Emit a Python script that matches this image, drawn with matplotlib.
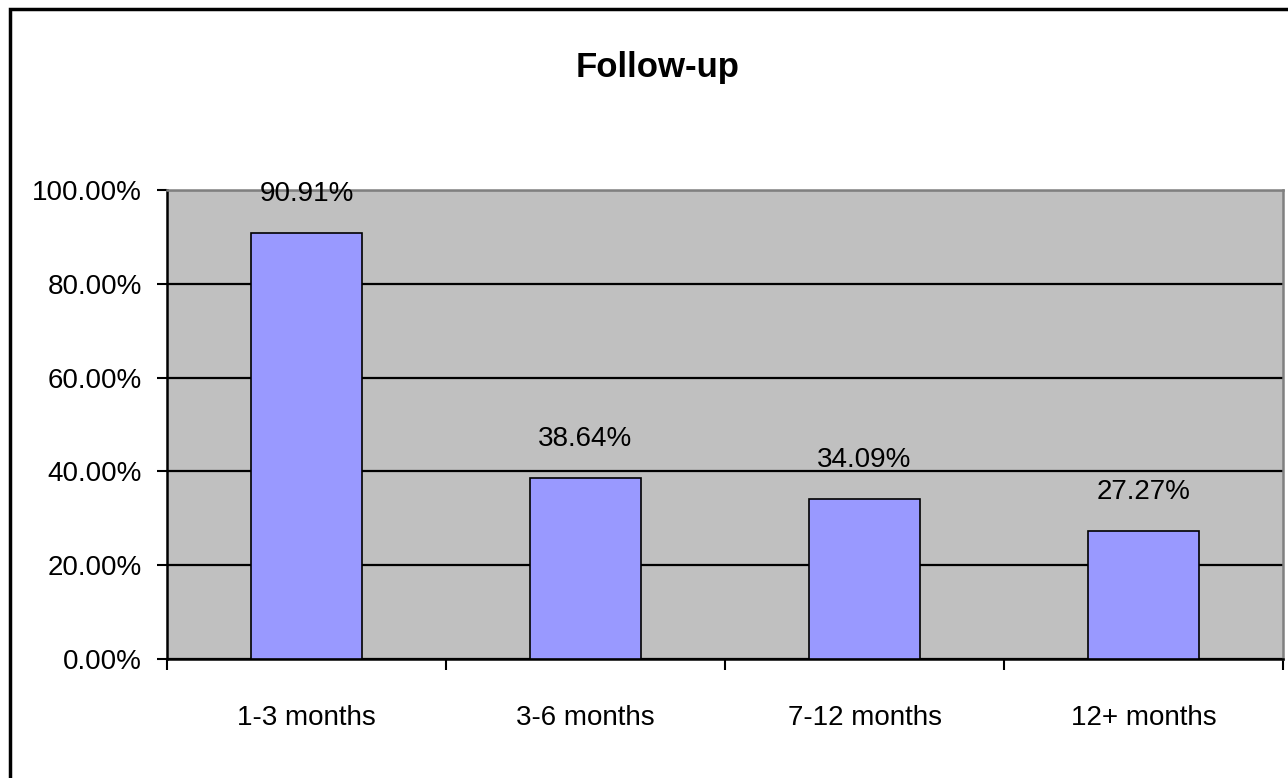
import numpy as np
import matplotlib.pyplot as plt
from matplotlib import font_manager
from matplotlib.patches import Rectangle
from matplotlib.ticker import FixedLocator, NullFormatter

# --- data ---
categories = ["1-3 months", "3-6 months", "7-12 months", "12+ months"]
values = [90.91, 38.64, 34.09, 27.27]
yticks = [0, 20, 40, 60, 80, 100]

# the original uses a narrow Arial; use Liberation Sans Narrow when present
try:
    font_manager.findfont("Liberation Sans Narrow", fallback_to_default=False)
    has_narrow = True
except ValueError:
    has_narrow = False

if has_narrow:
    plt.rcParams["font.family"] = ["Liberation Sans Narrow", "Liberation Sans", "DejaVu Sans"]
    fs, title_fs = 23, 27
else:
    plt.rcParams["font.family"] = ["Liberation Sans", "DejaVu Sans"]
    fs, title_fs = 20, 25

W, H = 1288, 778
fig = plt.figure(figsize=(W / 100, H / 100), dpi=100)
ax = fig.add_axes([167 / W, 1 - 659 / H, (1283 - 167) / W, (659 - 190) / H])

# plot area
ax.set_facecolor("#C0C0C0")
ax.set_axisbelow(True)
ax.yaxis.grid(True, color="black", linewidth=1.6)

x = np.arange(len(categories))
ax.bar(x, values, width=0.4, color="#9999FF", edgecolor="black", linewidth=1.2, zorder=3)

# data labels
for xi, v in zip(x, values):
    ax.annotate(f"{v:.2f}%", (xi, v), xytext=(0, 28), textcoords="offset points",
                ha="center", va="center", fontsize=fs, zorder=4,
                annotation_clip=False)

ax.set_xlim(-0.5, len(categories) - 0.5)
ax.set_ylim(0, 100)

# y axis
ax.set_yticks(yticks)
ax.set_yticklabels([f"{t:.2f}%" for t in yticks], fontsize=fs)
ax.tick_params(axis="y", length=7, width=1.5, pad=11)

# x axis: ticks at category boundaries, labels at centres
ax.xaxis.set_major_locator(FixedLocator(np.arange(len(categories) + 1) - 0.5))
ax.xaxis.set_major_formatter(NullFormatter())
ax.xaxis.set_minor_locator(FixedLocator(x))
ax.set_xticklabels(categories, minor=True, fontsize=fs)
ax.tick_params(axis="x", which="major", length=8, width=1.5)
ax.tick_params(axis="x", which="minor", length=0, pad=33)

for side in ["left", "bottom"]:
    ax.spines[side].set_color("black")
    ax.spines[side].set_linewidth(1.8)
for side in ["top", "right"]:
    ax.spines[side].set_color("#808080")
    ax.spines[side].set_linewidth(1.8)

# title
fig.text(658 / W, 1 - 67 / H, "Follow-up", ha="center", va="center",
         fontsize=title_fs, fontweight="bold")

# chart border (right and bottom edges fall outside the image)
fig.patches.append(Rectangle((10 / W, -0.1), 1.2, 1 - 9 / H + 0.1,
                             transform=fig.transFigure, fill=False,
                             edgecolor="black", linewidth=2.5))

fig.savefig("out.png", dpi=100)
